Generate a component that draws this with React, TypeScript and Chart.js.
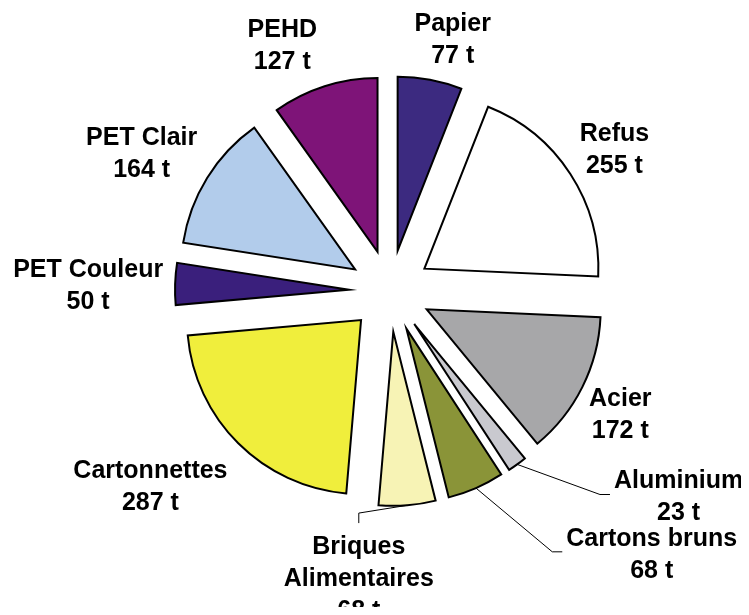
import { useEffect, useRef } from 'react';
import { Chart, registerables } from 'chart.js';

Chart.register(...registerables);

// ---- data ----
const categories = [
  'Papier',
  'Refus',
  'Acier',
  'Aluminium',
  'Cartons bruns',
  'Briques Alimentaires',
  'Cartonnettes',
  'PET Couleur',
  'PET Clair',
  'PEHD',
];
const tonnages = [77, 255, 172, 23, 68, 68, 287, 50, 164, 127];
const unit = 't';
const labelLines = [
  ['Papier'],
  ['Refus'],
  ['Acier'],
  ['Aluminium'],
  ['Cartons bruns'],
  ['Briques', 'Alimentaires'],
  ['Cartonnettes'],
  ['PET Couleur'],
  ['PET Clair'],
  ['PEHD'],
];
const sliceColors = [
  '#3c2a80',
  '#ffffff',
  '#a7a7a9',
  '#c9c9cf',
  '#8a9438',
  '#f7f3b5',
  '#f0ee3c',
  '#3a1f7c',
  '#b2cceb',
  '#7e1478',
];

// ---- layout / style ----
const RADIUS = 174;
const EXPLODE = 41;
const LABEL_GAP = 19;
const FONT_SIZE = 25;
const LINE_H = 32;
const labelNudges: [number, number][] = [
  [12, 10],
  [-1, 4],
  [-7, 5],
  [112, -8],
  [134, 20],
  [-56, 7],
  [-20, 8],
  [7, 4],
  [-2, 3],
  [-26, 9],
];
const calloutSide: (string | null)[] = [null, null, null, 'left', 'left', 'top', null, null, null, null];

// Keep every exploded slice at the same radius and its true angular size
// (Chart.js enlarges the radius and trims the angle of offset arcs).
const explodeFix = {
  id: 'explodeFix',
  afterDatasetUpdate(chart: any) {
    const meta = chart.getDatasetMeta(0);
    meta.data.forEach((arc: any) => {
      const fix = 1 - Math.sin(Math.min(Math.PI, arc.circumference || 0));
      const ro = EXPLODE * fix;
      arc.outerRadius = RADIUS - ro;
      const widen = ro / (Math.PI * RADIUS);
      arc.startAngle -= widen / 2;
      arc.endAngle += widen / 2;
    });
  },
};

const pieLabels = {
  id: 'pieLabels',
  afterDatasetsDraw(chart: any) {
    const ctx = chart.ctx as CanvasRenderingContext2D;
    const meta = chart.getDatasetMeta(0);
    ctx.save();
    ctx.font = `bold ${FONT_SIZE}px "Liberation Sans", Arial, sans-serif`;
    ctx.fillStyle = '#000';
    ctx.textAlign = 'center';
    ctx.textBaseline = 'middle';
    meta.data.forEach((arc: any, i: number) => {
      const mid = (arc.startAngle + arc.endAngle) / 2;
      const dx = Math.cos(mid);
      const dy = Math.sin(mid);
      const lines = [...labelLines[i], `${tonnages[i]} ${unit}`];
      const w = Math.max(...lines.map((l) => ctx.measureText(l).width));
      const h = lines.length * LINE_H;
      const reach = RADIUS + EXPLODE + LABEL_GAP;
      const bx = arc.x + dx * reach + (dx * w) / 2 + labelNudges[i][0];
      const by = arc.y + dy * reach + (dy * h) / 2 + labelNudges[i][1];
      const side = calloutSide[i];
      if (side) {
        const sx = arc.x + dx * (RADIUS + EXPLODE);
        const sy = arc.y + dy * (RADIUS + EXPLODE);
        let ex: number, ey: number, kx: number, ky: number;
        if (side === 'left') {
          ex = bx - w / 2 - 4;
          ey = by - 3;
          kx = ex - 10;
          ky = ey;
        } else {
          ex = bx;
          ey = by - h / 2 - 8;
          kx = ex;
          ky = ey - 10;
        }
        ctx.save();
        ctx.strokeStyle = '#000';
        ctx.lineWidth = 1;
        ctx.beginPath();
        ctx.moveTo(sx, sy);
        ctx.lineTo(kx, ky);
        ctx.lineTo(ex, ey);
        ctx.stroke();
        ctx.restore();
      }
      lines.forEach((l, j) => {
        ctx.fillText(l, bx, by - h / 2 + LINE_H * (j + 0.5));
      });
    });
    ctx.restore();
  },
};

export default function App() {
  const ref = useRef<HTMLCanvasElement | null>(null);
  useEffect(() => {
    if (!ref.current) return;
    const chart = new Chart(ref.current, {
      type: 'pie',
      data: {
        labels: categories,
        datasets: [
          {
            data: tonnages,
            backgroundColor: sliceColors,
            borderColor: '#000',
            borderWidth: 2,
            borderJoinStyle: 'miter',
            offset: EXPLODE * 4,
          } as any,
        ],
      },
      options: {
        responsive: false,
        animation: false,
        devicePixelRatio: 1,
        events: [],
        radius: RADIUS,
        layout: { padding: { left: 31, right: 0, top: 0, bottom: 33 } },
        plugins: {
          legend: { display: false },
          tooltip: { enabled: false },
          title: { display: false },
        },
      } as any,
      plugins: [explodeFix, pieLabels],
    });
    return () => chart.destroy();
  }, []);
  return <canvas ref={ref} width={733} height={599} style={{ display: 'block' }} />;
}
